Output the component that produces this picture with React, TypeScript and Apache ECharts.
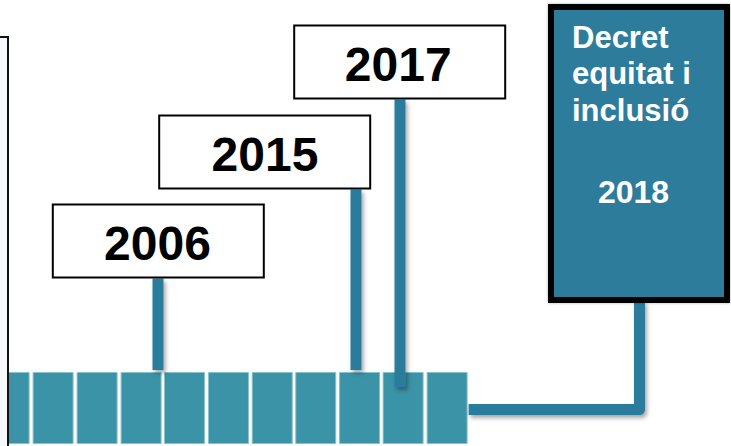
import React, { useEffect, useRef } from "react";
import * as echarts from "echarts";

// ---- data ----
// start year of each timeline segment (each segment ~2 years)
const segmentStarts = [1998.3, 2000.3, 2002.3, 2004.3, 2006.27, 2008.27, 2010.26, 2012.24, 2014.23, 2016.21, 2018.21];
const eventYears = [2006, 2015, 2017];
const eventLabels = ["2006", "2015", "2017"];
const featuredYear = [2018];
const featuredTitle = ["Decret", "equitat i", "inclusió"];
const featuredLabel = ["2018"];

// ---- layout / style (pixels) ----
const L = {
  segWidth: 41,
  tlTop: 372,
  tlBottom: 444,
  stemW: 11,
  stemBottom: [370, 370, 387],
  boxTop: [203.5, 114.5, 24.5],
  boxW: 213,
  boxH: 75,
  boxShift: [0.3, -91.3, -0.3],
  textShift: [-0.8, 0.3, -1.5],
  fBox: { x: 548, y: 4, w: 182, h: 299, bw: 6 },
  fStemX: 639.5,
  connY: 409.5,
  titleX: 572,
  titleY: [37.5, 73.8, 110.2],
  labelX: 633.5,
  labelY: 192.3,
};
const C = {
  block: "#3a93a6",
  blockBorder: "#86c2cd",
  stem: "#2b7c9c",
  fBox: "#2d7b9b",
  font: '"Liberation Sans", Arial, sans-serif',
};
const shadow = { shadowBlur: 4, shadowOffsetX: 2, shadowOffsetY: 3, shadowColor: "rgba(0,0,0,0.35)" };

export default function App() {
  const ref = useRef<HTMLDivElement>(null);
  useEffect(() => {
    if (!ref.current) return;
    const chart = echarts.init(ref.current, undefined, { renderer: "svg" });
    const option: any = {
      animation: false,
      backgroundColor: "#ffffff",
      grid: { left: 158, width: 242, top: 0, bottom: 0 },
      xAxis: { type: "value", min: 2006, max: 2017, show: false },
      yAxis: { type: "value", min: 0, max: 1, show: false },
      graphic: [
        {
          type: "rect",
          z: 100,
          shape: { x: -20, y: 37, width: 28, height: 430 },
          style: { fill: "#f6f8fb", stroke: "#111", lineWidth: 2 },
        },
      ],
      series: [
        {
          type: "custom",
          clip: false,
          z: 1,
          data: segmentStarts.map((s) => [s, 0]),
          renderItem: (params: any, api: any) => {
            const x = api.coord([api.value(0), 0])[0];
            return {
              type: "rect",
              shape: { x: x + 0.5, y: L.tlTop + 0.5, width: L.segWidth - 1, height: L.tlBottom - L.tlTop - 1 },
              style: { fill: C.block, stroke: C.blockBorder, lineWidth: 1 },
            };
          },
        },
        {
          type: "custom",
          clip: false,
          z: 5,
          data: eventYears.map((y, i) => [y, i]),
          renderItem: (params: any, api: any) => {
            const i = params.dataIndex;
            const x = api.coord([api.value(0), 0])[0];
            const top = L.boxTop[i];
            const bottom = top + L.boxH;
            const bx = x + L.boxShift[i] - L.boxW / 2;
            return {
              type: "group",
              children: [
                {
                  type: "rect",
                  shape: { x: x - L.stemW / 2, y: bottom, width: L.stemW, height: L.stemBottom[i] - bottom },
                  style: { fill: C.stem, ...shadow },
                },
                {
                  type: "rect",
                  shape: { x: bx + 1, y: top + 1, width: L.boxW - 2, height: L.boxH - 2 },
                  style: { fill: "#ffffff", stroke: "#000000", lineWidth: 2 },
                },
                {
                  type: "text",
                  style: {
                    text: eventLabels[i],
                    x: x + L.boxShift[i] + L.textShift[i],
                    y: top + L.boxH / 2 + 2,
                    fill: "#000000",
                    fontFamily: C.font,
                    fontWeight: "bold",
                    fontSize: 48,
                    align: "center",
                    verticalAlign: "middle",
                  },
                },
              ],
            };
          },
        },
        {
          type: "custom",
          clip: false,
          z: 6,
          data: featuredYear.map((y) => [y, 0]),
          renderItem: (params: any, api: any) => {
            const last = segmentStarts[segmentStarts.length - 1];
            const tlEnd = api.coord([last, 0])[0] + L.segWidth + 1;
            const f = L.fBox;
            return {
              type: "group",
              children: [
                {
                  type: "polyline",
                  shape: {
                    points: [
                      [tlEnd, L.connY],
                      [L.fStemX, L.connY],
                      [L.fStemX, f.y + f.h - 2],
                    ],
                  },
                  style: { stroke: C.stem, lineWidth: 11, lineJoin: "round", fill: null, ...shadow },
                },
                {
                  type: "rect",
                  shape: { x: f.x + f.bw / 2, y: f.y + f.bw / 2, width: f.w - f.bw, height: f.h - f.bw },
                  style: { fill: C.fBox, stroke: "#000000", lineWidth: f.bw, shadowBlur: 3, shadowColor: "rgba(0,0,0,0.3)" },
                },
                ...featuredTitle.map((t, k) => ({
                  type: "text",
                  style: {
                    text: t,
                    x: L.titleX,
                    y: L.titleY[k],
                    fill: "#ffffff",
                    fontFamily: C.font,
                    fontWeight: "bold",
                    fontSize: 31,
                    align: "left",
                    verticalAlign: "middle",
                  },
                })),
                {
                  type: "text",
                  style: {
                    text: featuredLabel[0],
                    x: L.labelX,
                    y: L.labelY,
                    fill: "#ffffff",
                    fontFamily: C.font,
                    fontWeight: "bold",
                    fontSize: 32,
                    align: "center",
                    verticalAlign: "middle",
                  },
                },
              ],
            };
          },
        },
      ],
    };
    chart.setOption(option);
    return () => chart.dispose();
  }, []);
  return (
    <div
      ref={ref}
      style={{ position: "fixed", left: 0, top: 0, width: 731, height: 446, background: "#fff" }}
    />
  );
}
